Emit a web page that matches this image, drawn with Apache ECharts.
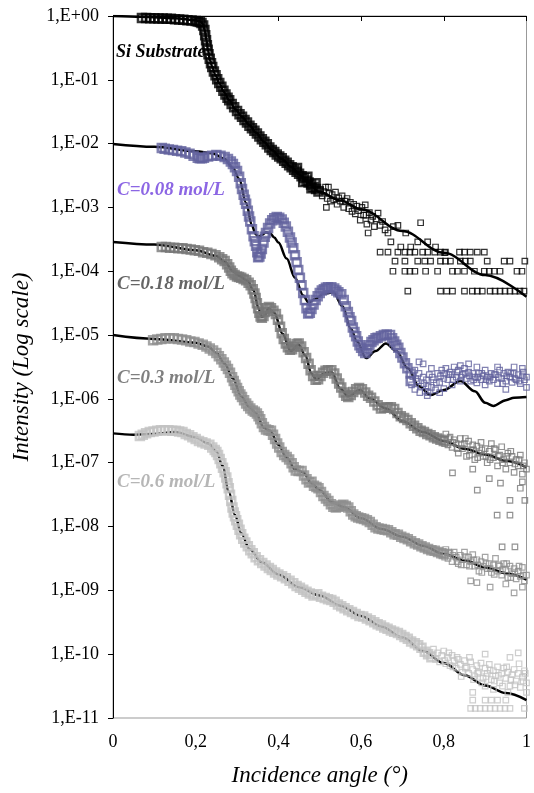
<!DOCTYPE html>
<html>
<head>
<meta charset="utf-8">
<script src="https://cdn.jsdelivr.net/npm/echarts@6/dist/echarts.min.js"></script>
<style>
  html, body { margin: 0; background: #fff; }
  #chart { width: 534px; height: 793px; }
</style>
</head>
<body>
<div id="chart"></div>
<script>
// All intensities are stored as log10(I).
// [incidence angle (deg), log10 intensity]

const siFit = [[0,0],[0.07,-0.013],[0.15,-0.036],[0.2,-0.065],[0.212,-0.085],[0.218,-0.13],[0.222,-0.22],[0.226,-0.38],[0.23,-0.55],[0.235,-0.7],[0.24,-0.8],[0.248,-0.93],[0.257,-1.05],[0.268,-1.19],[0.281,-1.32],[0.296,-1.46],[0.312,-1.58],[0.33,-1.71],[0.346,-1.83],[0.365,-1.97],[0.384,-2.1],[0.408,-2.24],[0.432,-2.37],[0.452,-2.49],[0.473,-2.61],[0.497,-2.75],[0.55,-2.89],[0.6,-3.03],[0.7,-3.37],[0.8,-3.71],[0.9,-4.06],[1.0,-4.4]];

const siData = [[0.07,-0.03],[0.08,-0.03],[0.09,-0.035],[0.1,-0.035],[0.11,-0.04],[0.12,-0.04],[0.13,-0.045],[0.14,-0.045],[0.15,-0.05],[0.16,-0.055],[0.17,-0.06],[0.18,-0.065],[0.19,-0.07],[0.2,-0.08],[0.205,-0.085],[0.21,-0.095],[0.214,-0.11],
  [0.218,-0.15],[0.221,-0.22],[0.223,-0.3],[0.225,-0.38],[0.227,-0.46],[0.229,-0.53],[0.231,-0.6],[0.234,-0.67],[0.237,-0.74],[0.24,-0.8],[0.244,-0.87],[0.248,-0.93],[0.252,-0.99],[0.257,-1.05],[0.262,-1.11],[0.267,-1.17],[0.272,-1.23],[0.277,-1.28],[0.281,-1.32],[0.287,-1.38],[0.293,-1.43],[0.3,-1.49],[0.306,-1.54],[0.312,-1.58],[0.318,-1.63],[0.324,-1.67],[0.33,-1.72],[0.336,-1.76],[0.342,-1.8],[0.348,-1.84],[0.354,-1.89],[0.36,-1.93],[0.366,-1.97],[0.372,-2.01],[0.378,-2.06],[0.384,-2.1],[0.39,-2.13],[0.396,-2.17],[0.402,-2.2],[0.408,-2.23],[0.414,-2.27],[0.42,-2.3],[0.426,-2.34],[0.432,-2.37],[0.438,-2.41],[0.444,-2.44],[0.45,-2.47],[0.456,-2.51],[0.462,-2.54],[0.468,-2.58],[0.473,-2.61],[0.479,-2.64],[0.485,-2.68],[0.491,-2.71],[0.497,-2.75],
  [0.445,-2.38],[0.46,-2.6],[0.47,-2.52],[0.48,-2.7],[0.49,-2.62],
  [0.502,-2.72],[0.506,-2.82],[0.51,-2.75],[0.514,-2.68],[0.518,-2.86],[0.522,-2.78],[0.526,-2.9],[0.53,-2.8],[0.534,-2.88],[0.538,-2.76],[0.542,-2.95],[0.546,-2.85],[0.55,-2.9],[0.554,-2.82],[0.558,-3.0],[0.562,-2.9],[0.566,-2.86],[0.57,-3.02],[0.574,-2.92],[0.578,-3.06],[0.582,-2.95],[0.586,-3.1],[0.59,-2.98],[0.594,-3.05],[0.598,-3.2],[0.602,-3.0],[0.606,-3.12],[0.61,-2.96],[0.612,-3.12],[0.614,-3.26],[0.617,-3.4],[0.62,-3.08],[0.624,-3.2],[0.628,-3.14],[0.632,-3.3],[0.636,-3.18],[0.641,-3.09],[0.646,-3.28],[0.652,-3.22],[0.658,-3.35],[0.665,-3.4],[0.672,-3.54],[0.678,-3.3],[0.689,-3.28],[0.696,-3.62],[0.708,-3.4],[0.72,-3.62],[0.737,-3.54],[0.744,-3.24],[0.761,-3.54],[0.78,-3.62],[0.802,-3.71],[0.516,-3.0],[0.521,-2.68],
  [0.646,-3.7],[0.665,-3.7],[0.689,-3.7],[0.706,-3.7],[0.718,-3.7],[0.73,-3.7],[0.749,-3.7],[0.761,-3.7],[0.778,-3.7],[0.792,-3.7],[0.804,-3.7],[0.838,-3.7],[0.85,-3.7],[0.864,-3.7],[0.881,-3.7],[0.898,-3.7],
  [0.682,-3.84],[0.706,-3.84],[0.737,-3.84],[0.754,-3.84],[0.768,-3.84],[0.792,-3.84],[0.804,-3.84],[0.816,-3.84],[0.84,-3.84],[0.852,-3.84],[0.864,-3.84],[0.905,-3.84],[0.946,-3.84],[0.96,-3.84],[0.996,-3.84],
  [0.677,-4.0],[0.706,-4.0],[0.718,-4.0],[0.73,-4.0],[0.756,-4.0],[0.785,-4.0],[0.821,-4.0],[0.833,-4.0],[0.85,-4.0],[0.874,-4.0],[0.898,-4.0],[0.91,-4.0],[0.922,-4.0],[0.936,-4.0],[0.977,-4.0],[0.989,-4.0],
  [0.713,-4.31],[0.792,-4.31],[0.807,-4.31],[0.821,-4.31],[0.85,-4.31],[0.869,-4.31],[0.881,-4.31],[0.893,-4.31],[0.912,-4.31],[0.924,-4.31],[0.936,-4.31],[0.948,-4.31],[0.96,-4.31],[0.972,-4.31],[0.984,-4.31],[0.994,-4.31]];

const c008Fit = [[0,-2.006],[0.1,-2.05],[0.2,-2.12],[0.24,-2.15],[0.27,-2.24],[0.29,-2.38],[0.305,-2.55],[0.322,-2.93],[0.336,-3.28],[0.345,-3.42],[0.352,-3.46],[0.36,-3.43],[0.37,-3.39],[0.38,-3.41],[0.39,-3.47],[0.4,-3.55],[0.42,-3.8],[0.44,-4.1],[0.46,-4.38],[0.473,-4.49],[0.49,-4.43],[0.51,-4.35],[0.533,-4.33],[0.555,-4.55],[0.575,-4.9],[0.59,-5.1],[0.612,-5.36],[0.635,-5.25],[0.66,-5.13],[0.685,-5.25],[0.713,-5.52],[0.74,-5.8],[0.768,-5.94],[0.8,-5.86],[0.84,-5.72],[0.875,-5.88],[0.9,-6.06],[0.92,-6.11],[0.95,-6.02],[0.97,-5.98],[1.0,-5.97]];

const c008Data = [[0.118,-2.07],[0.125,-2.08],[0.135,-2.09],[0.145,-2.1],[0.155,-2.11],[0.165,-2.12],[0.175,-2.14],[0.185,-2.16],[0.195,-2.19],[0.205,-2.22],[0.21,-2.23],[0.215,-2.23],[0.22,-2.22],[0.23,-2.2],[0.24,-2.19],[0.25,-2.18],[0.26,-2.19],[0.27,-2.21],[0.278,-2.24],[0.285,-2.28],[0.29,-2.32],[0.295,-2.37],[0.3,-2.43],[0.305,-2.52],[0.309,-2.62],[0.312,-2.71],[0.316,-2.8],[0.319,-2.88],[0.322,-2.94],[0.326,-3.05],[0.329,-3.14],[0.332,-3.22],[0.336,-3.34],[0.34,-3.45],[0.343,-3.53],[0.346,-3.6],[0.349,-3.7],[0.351,-3.78],[0.354,-3.77],[0.357,-3.72],[0.36,-3.65],[0.364,-3.55],[0.367,-3.46],[0.37,-3.4],[0.375,-3.32],[0.38,-3.25],[0.385,-3.2],[0.39,-3.17],[0.396,-3.15],[0.402,-3.16],[0.408,-3.19],[0.413,-3.24],[0.418,-3.3],[0.423,-3.38],[0.428,-3.47],[0.432,-3.55],[0.436,-3.64],[0.44,-3.75],[0.444,-3.86],[0.448,-3.98],[0.452,-4.1],[0.456,-4.22],[0.46,-4.34],[0.464,-4.45],[0.468,-4.58],[0.472,-4.66],[0.476,-4.65],[0.48,-4.59],[0.485,-4.52],[0.49,-4.45],[0.495,-4.39],[0.5,-4.34],[0.505,-4.3],[0.51,-4.28],[0.515,-4.26],[0.52,-4.25],[0.528,-4.25],[0.535,-4.27],[0.54,-4.3],[0.545,-4.33],[0.552,-4.36],[0.558,-4.45],[0.563,-4.55],[0.568,-4.64],[0.572,-4.72],[0.576,-4.78],[0.58,-4.88],[0.584,-4.95],[0.588,-5.02],[0.592,-5.1],[0.596,-5.16],[0.6,-5.2],[0.605,-5.25],[0.61,-5.28],[0.615,-5.22],[0.62,-5.16],[0.625,-5.11],[0.63,-5.08],[0.635,-5.05],[0.64,-5.04],[0.648,-5.02],[0.655,-5.0],[0.662,-4.99],[0.67,-5.0],[0.675,-5.05],[0.68,-5.1],[0.685,-5.15],[0.69,-5.2],[0.695,-5.28],[0.7,-5.35],[0.706,-5.44],[0.712,-5.52],[0.72,-5.6],
  [0.725,-5.65],[0.73,-5.55],[0.735,-5.72],[0.74,-5.6],[0.745,-5.8],[0.75,-5.66],[0.755,-5.88],[0.758,-5.7],[0.762,-5.9],[0.765,-5.62],[0.77,-5.82],[0.775,-5.7],[0.78,-5.86],[0.785,-5.6],[0.79,-5.74],[0.795,-5.55],[0.8,-5.68],[0.805,-5.52],[0.81,-5.7],[0.815,-5.58],[0.82,-5.62],[0.825,-5.5],[0.83,-5.66],[0.835,-5.55],[0.84,-5.48],[0.845,-5.62],[0.85,-5.52],[0.855,-5.68],[0.86,-5.58],[0.865,-5.72],[0.87,-5.6],[0.875,-5.66],[0.88,-5.75],[0.885,-5.6],[0.89,-5.7],[0.895,-5.64],[0.9,-5.78],[0.905,-5.66],[0.91,-5.72],[0.915,-5.6],[0.92,-5.7],[0.925,-5.62],[0.93,-5.76],[0.935,-5.55],[0.94,-5.68],[0.945,-5.6],[0.95,-5.72],[0.955,-5.58],[0.96,-5.66],[0.965,-5.74],[0.97,-5.6],[0.975,-5.7],[0.98,-5.62],[0.985,-5.76],[0.99,-5.64],[0.995,-5.7],[1.0,-5.66],
  [0.73,-5.85],[0.76,-5.95],[0.75,-5.45],[0.79,-5.9],[0.82,-5.78],[0.84,-5.72],[0.86,-5.45],[0.88,-5.5],[0.9,-5.55],[0.93,-5.5],[0.95,-5.85],[0.97,-5.5],[0.99,-5.52],[1.0,-5.82],[0.8,-5.84],[0.77,-5.52],[0.74,-5.42],[0.72,-5.72],
  [0.722,-5.78],[0.732,-5.68],[0.742,-5.9],[0.752,-5.76],[0.762,-5.8],[0.772,-5.66],[0.782,-5.75],[0.792,-5.64],[0.802,-5.6],[0.812,-5.62],[0.822,-5.7],[0.832,-5.58],[0.842,-5.66],[0.852,-5.6],[0.862,-5.64],[0.872,-5.7],[0.882,-5.66],[0.892,-5.6],[0.902,-5.7],[0.912,-5.66],[0.922,-5.62],[0.932,-5.66],[0.942,-5.76],[0.952,-5.64],[0.962,-5.6],[0.972,-5.68],[0.982,-5.72],[0.992,-5.58]];

const c018Fit = [[0,-3.54],[0.1,-3.58],[0.2,-3.67],[0.25,-3.76],[0.27,-3.85],[0.29,-4.0],[0.305,-4.07],[0.325,-4.15],[0.34,-4.3],[0.352,-4.58],[0.36,-4.72],[0.368,-4.68],[0.376,-4.58],[0.39,-4.65],[0.41,-4.98],[0.43,-5.25],[0.449,-5.15],[0.465,-5.32],[0.48,-5.6],[0.492,-5.7],[0.51,-5.6],[0.528,-5.58],[0.55,-5.84],[0.569,-5.96],[0.597,-5.86],[0.62,-5.99],[0.66,-6.15],[0.7,-6.35],[0.75,-6.52],[0.8,-6.66],[0.85,-6.78],[0.9,-6.87],[0.95,-6.97],[1.0,-7.07]];

const c018Data = [[0.118,-3.62],[0.128,-3.62],[0.138,-3.63],[0.148,-3.63],[0.158,-3.64],[0.168,-3.64],[0.178,-3.65],[0.188,-3.66],[0.198,-3.67],[0.208,-3.68],[0.218,-3.7],[0.228,-3.71],[0.238,-3.73],[0.248,-3.75],[0.257,-3.78],[0.264,-3.81],[0.27,-3.84],[0.276,-3.89],[0.281,-3.94],[0.285,-3.99],[0.289,-4.03],[0.294,-4.06],[0.3,-4.08],[0.305,-4.09],[0.31,-4.1],[0.316,-4.12],[0.322,-4.14],[0.328,-4.18],[0.333,-4.22],[0.338,-4.28],[0.342,-4.35],[0.345,-4.42],[0.348,-4.5],[0.351,-4.58],[0.354,-4.65],[0.357,-4.71],[0.36,-4.73],[0.364,-4.7],[0.368,-4.64],[0.372,-4.58],[0.377,-4.56],[0.382,-4.58],[0.388,-4.62],[0.394,-4.67],[0.399,-4.76],[0.404,-4.87],[0.408,-4.97],[0.413,-5.06],[0.418,-5.13],[0.423,-5.19],[0.428,-5.23],[0.433,-5.22],[0.438,-5.18],[0.444,-5.14],[0.449,-5.13],[0.455,-5.18],[0.461,-5.27],[0.467,-5.36],[0.473,-5.45],[0.478,-5.55],[0.484,-5.64],[0.49,-5.7],[0.496,-5.69],[0.502,-5.64],[0.508,-5.59],[0.514,-5.56],[0.52,-5.55],[0.528,-5.55],[0.535,-5.6],[0.541,-5.68],[0.547,-5.76],[0.552,-5.82],[0.558,-5.9],[0.564,-5.95],[0.569,-5.97],[0.575,-5.94],[0.581,-5.89],[0.588,-5.85],[0.595,-5.83],[0.602,-5.85],[0.61,-5.9],[0.617,-5.95],[0.624,-5.98],[0.632,-6.04],[0.64,-6.1],[0.648,-6.15],[0.656,-6.14],[0.664,-6.13],[0.672,-6.13],[0.68,-6.16],[0.688,-6.22],[0.696,-6.27],[0.704,-6.3],[0.712,-6.33],[0.72,-6.38],[0.728,-6.42],[0.736,-6.46],[0.744,-6.5],[0.752,-6.52],[0.76,-6.55],[0.768,-6.57],[0.776,-6.6],[0.784,-6.62],[0.792,-6.64],[0.8,-6.66],
  [0.805,-6.55],[0.81,-6.72],[0.815,-6.6],[0.82,-6.76],[0.825,-6.64],[0.83,-6.7],[0.835,-6.85],[0.84,-6.62],[0.845,-6.78],[0.85,-6.7],[0.855,-6.9],[0.86,-6.66],[0.865,-6.8],[0.87,-6.72],[0.875,-6.95],[0.88,-6.74],[0.885,-6.85],[0.89,-6.68],[0.895,-6.9],[0.9,-6.78],[0.905,-7.0],[0.91,-6.82],[0.915,-6.7],[0.92,-6.92],[0.925,-6.8],[0.93,-7.05],[0.935,-6.88],[0.94,-6.75],[0.945,-6.95],[0.95,-7.1],[0.955,-6.85],[0.96,-7.0],[0.965,-6.9],[0.97,-7.15],[0.975,-6.95],[0.98,-7.05],[0.985,-6.88],[0.99,-7.18],[0.995,-7.0],[1.0,-7.1],
  [0.802,-6.7],[0.812,-6.62],[0.822,-6.68],[0.832,-6.78],[0.842,-6.72],[0.852,-6.62],[0.862,-6.88],[0.872,-6.8],[0.882,-6.92],[0.892,-6.8],[0.902,-6.9],[0.912,-6.95],[0.922,-6.78],[0.932,-6.9],[0.942,-7.0],[0.952,-6.9],[0.962,-6.82],[0.972,-7.02],[0.982,-6.95],[0.992,-7.05],
  [0.821,-7.16],[0.881,-7.43],[0.937,-7.32],[0.96,-7.59],[0.996,-7.59],[0.929,-7.82],[0.96,-7.82],[0.941,-8.32],[0.972,-8.32],[0.99,-7.3],[0.985,-7.4],[0.91,-7.25],[0.87,-7.1]];

const c03Fit = [[0,-5.0],[0.1,-5.06],[0.2,-5.12],[0.23,-5.18],[0.25,-5.28],[0.27,-5.45],[0.29,-5.68],[0.31,-5.96],[0.33,-6.13],[0.345,-6.22],[0.365,-6.45],[0.38,-6.5],[0.4,-6.72],[0.42,-6.92],[0.44,-7.1],[0.46,-7.15],[0.48,-7.32],[0.5,-7.43],[0.53,-7.62],[0.56,-7.7],[0.6,-7.87],[0.65,-8.04],[0.7,-8.16],[0.75,-8.3],[0.8,-8.43],[0.85,-8.53],[0.9,-8.64],[0.95,-8.73],[1.0,-8.83]];

const c03Data = [[0.097,-5.08],[0.107,-5.07],[0.117,-5.06],[0.127,-5.05],[0.137,-5.05],[0.147,-5.05],[0.157,-5.06],[0.167,-5.07],[0.177,-5.08],[0.187,-5.1],[0.197,-5.11],[0.207,-5.13],[0.217,-5.15],[0.226,-5.18],[0.234,-5.21],[0.242,-5.24],[0.25,-5.28],[0.256,-5.33],[0.262,-5.38],[0.268,-5.43],[0.273,-5.48],[0.278,-5.53],[0.283,-5.59],[0.288,-5.66],[0.292,-5.72],[0.296,-5.78],[0.3,-5.83],[0.304,-5.88],[0.308,-5.93],[0.312,-5.97],[0.317,-6.02],[0.322,-6.07],[0.327,-6.11],[0.332,-6.15],[0.338,-6.18],[0.343,-6.2],[0.348,-6.23],[0.352,-6.27],[0.356,-6.32],[0.36,-6.38],[0.365,-6.44],[0.37,-6.48],[0.376,-6.49],[0.382,-6.5],[0.387,-6.56],[0.392,-6.63],[0.397,-6.7],[0.402,-6.76],[0.408,-6.83],[0.414,-6.88],[0.42,-6.91],[0.426,-6.95],[0.432,-7.01],[0.437,-7.07],[0.442,-7.12],[0.449,-7.13],[0.456,-7.13],[0.462,-7.2],[0.468,-7.26],[0.474,-7.31],[0.48,-7.3],[0.486,-7.36],[0.492,-7.38],[0.497,-7.4],[0.503,-7.46],[0.509,-7.52],[0.515,-7.56],[0.521,-7.6],[0.527,-7.65],[0.533,-7.69],[0.539,-7.7],[0.545,-7.69],[0.551,-7.67],[0.557,-7.66],[0.563,-7.68],[0.569,-7.7],[0.575,-7.76],[0.581,-7.81],[0.587,-7.84],[0.593,-7.86],[0.6,-7.87],[0.607,-7.88],[0.614,-7.9],[0.621,-7.93],[0.628,-7.97],[0.635,-8.01],[0.642,-8.03],[0.65,-8.04],[0.657,-8.05],[0.665,-8.06],[0.673,-8.09],[0.681,-8.12],[0.689,-8.13],[0.697,-8.16],[0.705,-8.18],[0.713,-8.2],[0.721,-8.23],[0.73,-8.26],[0.738,-8.28],[0.746,-8.31],[0.754,-8.33],[0.762,-8.35],[0.77,-8.37],[0.778,-8.38],[0.786,-8.4],[0.794,-8.42],[0.8,-8.43],
  [0.805,-8.36],[0.81,-8.5],[0.815,-8.42],[0.82,-8.55],[0.825,-8.4],[0.83,-8.48],[0.835,-8.58],[0.84,-8.45],[0.845,-8.52],[0.85,-8.4],[0.855,-8.6],[0.86,-8.48],[0.865,-8.55],[0.87,-8.44],[0.875,-8.62],[0.88,-8.52],[0.885,-8.7],[0.89,-8.55],[0.895,-8.62],[0.9,-8.48],[0.905,-8.66],[0.91,-8.58],[0.915,-8.72],[0.92,-8.6],[0.925,-8.5],[0.93,-8.7],[0.935,-8.62],[0.94,-8.76],[0.945,-8.58],[0.95,-8.68],[0.955,-8.8],[0.96,-8.62],[0.965,-8.74],[0.97,-8.66],[0.975,-8.82],[0.98,-8.7],[0.985,-8.78],[0.99,-8.64],[0.995,-8.85],[1.0,-8.76],
  [0.802,-8.48],[0.812,-8.4],[0.822,-8.45],[0.832,-8.55],[0.842,-8.6],[0.852,-8.47],[0.862,-8.62],[0.872,-8.52],[0.882,-8.6],[0.892,-8.72],[0.902,-8.58],[0.912,-8.66],[0.922,-8.75],[0.932,-8.6],[0.942,-8.68],[0.952,-8.58],[0.962,-8.8],[0.972,-8.72],[0.982,-8.62],[0.992,-8.76],
  [0.88,-8.88],[0.912,-8.95],[0.97,-9.04],[0.865,-8.85],[0.99,-8.95],[0.95,-8.9]];

const c06Fit = [[0,-6.54],[0.05,-6.56],[0.1,-6.55],[0.15,-6.52],[0.2,-6.6],[0.23,-6.7],[0.25,-6.82],[0.265,-7.05],[0.28,-7.45],[0.295,-7.82],[0.31,-8.1],[0.33,-8.35],[0.36,-8.56],[0.4,-8.75],[0.45,-8.95],[0.5,-9.08],[0.55,-9.24],[0.6,-9.4],[0.65,-9.57],[0.7,-9.74],[0.75,-9.95],[0.8,-10.14],[0.85,-10.33],[0.9,-10.49],[0.95,-10.61],[1.0,-10.72]];

const c06Data = [[0.065,-6.58],[0.072,-6.56],[0.08,-6.54],[0.089,-6.52],[0.098,-6.51],[0.107,-6.5],[0.116,-6.49],[0.125,-6.49],[0.134,-6.49],[0.143,-6.5],[0.152,-6.5],[0.16,-6.51],[0.168,-6.52],[0.176,-6.55],[0.184,-6.57],[0.192,-6.6],[0.2,-6.63],[0.208,-6.66],[0.216,-6.68],[0.224,-6.7],[0.233,-6.72],[0.24,-6.76],[0.246,-6.8],[0.25,-6.83],[0.254,-6.88],[0.258,-6.94],[0.262,-7.01],[0.266,-7.08],[0.27,-7.15],[0.274,-7.23],[0.277,-7.32],[0.28,-7.4],[0.283,-7.5],[0.286,-7.6],[0.289,-7.7],[0.292,-7.78],[0.295,-7.84],[0.298,-7.9],[0.302,-7.97],[0.306,-8.05],[0.31,-8.12],[0.315,-8.19],[0.32,-8.25],[0.326,-8.31],[0.332,-8.37],[0.338,-8.42],[0.345,-8.48],[0.353,-8.53],[0.361,-8.57],[0.369,-8.61],[0.377,-8.65],[0.384,-8.68],[0.392,-8.72],[0.4,-8.75],[0.409,-8.78],[0.418,-8.81],[0.427,-8.85],[0.436,-8.89],[0.444,-8.93],[0.452,-8.96],[0.46,-8.99],[0.468,-9.02],[0.476,-9.05],[0.485,-9.08],[0.494,-9.06],[0.503,-9.1],[0.512,-9.12],[0.52,-9.14],[0.528,-9.15],[0.536,-9.18],[0.544,-9.22],[0.552,-9.25],[0.56,-9.28],[0.569,-9.31],[0.578,-9.34],[0.587,-9.37],[0.596,-9.4],[0.605,-9.41],[0.614,-9.44],[0.623,-9.47],[0.632,-9.5],[0.64,-9.53],[0.648,-9.55],[0.656,-9.58],[0.664,-9.6],[0.672,-9.63],[0.68,-9.65],[0.689,-9.67],[0.697,-9.7],[0.705,-9.73],[0.713,-9.76],[0.721,-9.8],[0.73,-9.83],[0.738,-9.86],[0.746,-9.9],[0.754,-9.96],[0.762,-10.0],[0.77,-10.05],
  [0.775,-9.92],[0.78,-10.08],[0.785,-9.98],[0.79,-10.12],[0.795,-10.02],[0.8,-9.95],[0.805,-10.15],[0.81,-10.05],[0.815,-10.18],[0.82,-10.02],[0.825,-10.1],[0.83,-10.22],[0.835,-10.08],[0.84,-10.16],[0.845,-10.28],[0.85,-10.1],[0.855,-10.2],[0.86,-10.3],[0.865,-10.12],[0.87,-10.24],[0.875,-10.35],[0.88,-10.18],[0.885,-10.28],[0.89,-10.14],[0.895,-10.38],[0.9,-10.22],[0.905,-10.3],[0.91,-10.16],[0.915,-10.4],[0.92,-10.26],[0.925,-10.34],[0.93,-10.2],[0.935,-10.45],[0.94,-10.3],[0.945,-10.22],[0.95,-10.38],[0.955,-10.28],[0.96,-10.5],[0.965,-10.32],[0.97,-10.24],[0.975,-10.42],[0.98,-10.3],[0.985,-10.52],[0.99,-10.36],[0.995,-10.26],[1.0,-10.45],
  [0.802,-10.1],[0.812,-9.98],[0.822,-10.2],[0.832,-10.05],[0.842,-10.35],[0.852,-10.22],[0.862,-10.05],[0.872,-10.4],[0.882,-10.3],[0.892,-10.45],[0.902,-10.35],[0.912,-10.25],[0.922,-10.42],[0.932,-10.33],[0.942,-10.5],[0.952,-10.2],[0.962,-10.4],[0.972,-10.48],[0.982,-10.15],[0.992,-10.42],[0.997,-10.3],
  [0.87,-10.6],[0.9,-10.5],[0.92,-10.55],[0.955,-10.6],[1.0,-10.6],[0.98,-9.98],[0.96,-10.05],[0.9,-10.0],
  [0.87,-10.72],[0.9,-10.72],[0.915,-10.72],[0.93,-10.72],[0.95,-10.72],
  [0.865,-10.85],[0.876,-10.85],[0.888,-10.85],[0.9,-10.85],[0.912,-10.85],[0.924,-10.85],[0.936,-10.85],[0.948,-10.85],[0.96,-10.85],[0.995,-10.85]];

// angle beyond which each data set turns into a noisy cloud of points
const noiseFrom = { si: 0.5, c008: 0.722, c018: 0.802, c03: 0.802, c06: 0.772 };

const serif = '"Liberation Serif", "Times New Roman", serif';

function fitLine(data) {
  return {
    type: 'line', data: data, showSymbol: false, smooth: 0.35, smoothMonotone: 'x',
    lineStyle: { color: '#000', width: 2.5 }, z: 2, silent: true
  };
}
// the dense, smooth part of a measurement is drawn as a thick band of squares,
// the noisy tail with plain small open squares
function points(data, cut, color) {
  const style = { color: 'rgba(255,255,255,0)', borderColor: color };
  return [
    {
      type: 'scatter', data: data.filter(p => p[0] < cut), symbol: 'rect', symbolSize: 8,
      itemStyle: Object.assign({ borderWidth: 2.5 }, style), z: 3, silent: true
    },
    {
      type: 'scatter', data: data.filter(p => p[0] >= cut), symbol: 'rect', symbolSize: 5.5,
      itemStyle: Object.assign({ borderWidth: 1.2 }, style), z: 3, silent: true
    }
  ];
}
function label(text, x, y, color, size) {
  return {
    type: 'text', x: x, y: y, silent: true,
    style: { text: text, fill: color, font: 'italic bold ' + size + 'px ' + serif, verticalAlign: 'middle' }
  };
}

const chart = echarts.init(document.getElementById('chart'));
chart.setOption({
  animation: false,
  backgroundColor: '#fff',
  grid: { left: 113, right: 5, top: 16, bottom: 75, show: true, borderColor: '#999', borderWidth: 1 },
  xAxis: {
    type: 'value', min: 0, max: 1, interval: 0.2,
    name: 'Incidence angle (°)', nameLocation: 'middle', nameGap: 46,
    nameTextStyle: { fontFamily: serif, fontStyle: 'italic', fontSize: 23, color: '#000' },
    axisLine: { lineStyle: { color: '#000', width: 1 } },
    axisTick: { length: 5, lineStyle: { color: '#000' } },
    splitLine: { show: false },
    axisLabel: {
      margin: 15, fontFamily: serif, fontSize: 18, color: '#000',
      formatter: v => (v === 0 || v === 1) ? String(v) : v.toFixed(1).replace('.', ',')
    }
  },
  yAxis: {
    type: 'value', min: -11, max: 0, interval: 1,
    name: 'Intensity (Log scale)', nameLocation: 'middle', nameGap: 80,
    nameTextStyle: { fontFamily: serif, fontStyle: 'italic', fontSize: 23, color: '#000' },
    axisLine: { show: true, lineStyle: { color: '#000', width: 1 } },
    axisTick: { show: true, length: 5, lineStyle: { color: '#000' } },
    splitLine: { show: false },
    axisLabel: {
      margin: 14, fontFamily: serif, fontSize: 18, color: '#000',
      formatter: v => '1,E' + (v >= 0 ? '+' : '-') + String(Math.abs(Math.round(v))).padStart(2, '0')
    }
  },
  graphic: [
    label('Si Substrate', 116, 52, '#000', 18),
    label('C=0.08 mol/L', 117, 190, '#8c66e4', 19),
    label('C=0.18 mol/L', 117, 284, '#656565', 19),
    label('C=0.3 mol/L', 117, 378, '#7f7f7f', 19),
    label('C=0.6 mol/L', 117, 482, '#b6b6b6', 19)
  ],
  series: [
    fitLine(siFit), fitLine(c008Fit), fitLine(c018Fit), fitLine(c03Fit), fitLine(c06Fit),
    ...points(siData, noiseFrom.si, '#000'),
    ...points(c008Data, noiseFrom.c008, '#62629e'),
    ...points(c018Data, noiseFrom.c018, '#777777'),
    ...points(c03Data, noiseFrom.c03, '#8d8d8d'),
    ...points(c06Data, noiseFrom.c06, '#c2c2c2')
  ]
});
</script>
</body>
</html>
